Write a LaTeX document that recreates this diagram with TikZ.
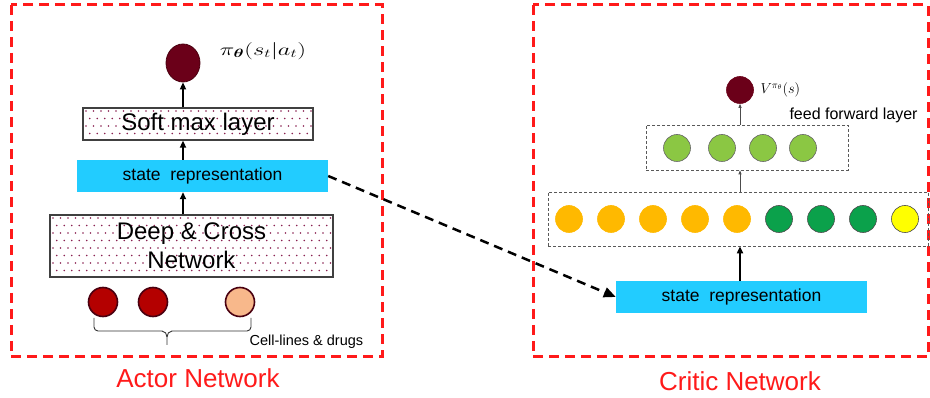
\documentclass[tikz,border=0pt]{standalone}
\usepackage{amsmath}
\usepackage{fontspec}
\setmainfont{Liberation Sans}
\usetikzlibrary{arrows.meta,shapes.geometric}
\definecolor{redline}{HTML}{FF1A1A}
\definecolor{cyanbox}{HTML}{22CCFF}
\definecolor{maroon}{HTML}{6B0019}
\definecolor{maroonedge}{HTML}{4A0010}
\definecolor{cellred}{HTML}{B40000}
\definecolor{peach}{HTML}{F8B88B}
\definecolor{orangec}{HTML}{FFB900}
\definecolor{greenc}{HTML}{0BA14B}
\definecolor{lgreenc}{HTML}{8BC743}
\definecolor{yellowc}{HTML}{FFFF00}
\definecolor{dotc}{HTML}{8B2252}
\newcommand{\fs}[1]{\fontsize{#1}{#1}\selectfont}
\newcommand{\mydotpattern}[4]{%
  \begin{scope}
    \clip (#1,#2) rectangle (#3,#4);
    \foreach \yy in {0,...,12}{
      \foreach \xx in {0,...,40}{
        \pgfmathsetmacro{\px}{#1+3+\xx*7.5+mod(\yy,2)*3.75}
        \pgfmathsetmacro{\py}{#2+3+\yy*7.5}
        \fill[dotc] (\px,\py) circle (0.85);
      }
    }
  \end{scope}}
\begin{document}
\begin{tikzpicture}[x=1pt,y=-1pt,
  frame/.style={draw=redline,line width=3pt,dash pattern=on 10pt off 6pt},
  title/.style={text=redline,font=\fs{26}},
  layerbox/.style={draw=black!75,line width=1.3pt,minimum width=#1,inner sep=0pt},
  staterep/.style={fill=cyanbox,minimum width=251,minimum height=32,inner sep=0pt,font=\fs{17.5}},
  thick arrow/.style={-{Triangle[length=7pt,width=6pt]},line width=2.5pt,black},
  thin arrow/.style={-{Triangle[length=4pt,width=3pt]},line width=0.8pt,black!70},
  neuron/.style={circle,minimum size=27,inner sep=0pt,line width=0.6pt},
  cellnode/.style={circle,minimum size=29,inner sep=0pt,line width=1.6pt,draw=maroonedge},
  groupbox/.style={draw=black!65,line width=0.7pt,dash pattern=on 3pt off 2pt,inner sep=0pt},
]
\useasboundingbox (0,0) rectangle (930,398);
\fill[white] (0,0) rectangle (930,398);

% frames
\draw[frame] (11,5) rectangle (382,357);
\draw[frame] (533,5) rectangle (928,357);
\node[title] (actortitle) at (198,378) {Actor Network};
\node[title] (critictitle) at (740,381) {Critic Network};

% ---------- Actor ----------
\mydotpattern{83}{108}{313}{140}
\node[layerbox=230,minimum height=32,font=\fs{24}] (softmax) at (198,124) {Soft max layer};
\node[staterep] (sra) at (202.5,176) {state\ \ representation};
\mydotpattern{50}{215}{333}{277}
\node[layerbox=283,minimum height=62,font=\fontsize{24}{29}\selectfont,align=center] (dcn) at (191.5,246) {Deep \& Cross\\Network};
\node[ellipse,minimum width=34,minimum height=38,inner sep=0pt,fill=maroon,draw=maroonedge,line width=0.8pt] (pout) at (183,63) {};
\node[font=\fs{18}] (plabel) at (263,51) {\scalebox{1.42}[1]{$\pi_{\boldsymbol{\theta}}(s_t|a_t)$}};

\draw[thick arrow] (softmax.north -| pout) -- (pout.south);
\draw[thick arrow] (sra.north -| pout) -- (softmax.south -| pout);
\draw[thick arrow] (dcn.north -| pout) -- (sra.south -| pout);

\node[cellnode,fill=cellred] (c1) at (103,302) {};
\node[cellnode,fill=cellred] (c2) at (153,302) {};
\node[cellnode,fill=peach] (c3) at (240,302) {};
\draw[black!80,line width=0.9pt] (94,318) -- (94,327) to[out=-90,in=180] (98,331) -- (162,331) to[out=0,in=90] (167,337) -- (167,345);
\draw[black!80,line width=0.9pt] (167,337) to[out=90,in=180] (172,331) -- (247,331) to[out=0,in=-90] (251,327) -- (251,318);
\node[font=\fs{14.5},anchor=west] (celllabel) at (246,342) {Cell-lines \& drugs};

% ---------- Critic ----------
\node[staterep] (src) at (741.5,297) {state\ \ representation};
\node[groupbox,minimum width=380,minimum height=54] (big) at (738,219) {};
\node[groupbox,minimum width=202,minimum height=45] (ff) at (747,147.5) {};
\node[neuron,fill=maroon,draw=maroon] (vout) at (740,90) {};
\node[font=\fs{14},anchor=west] (vlabel) at (757,90) {$V^{\pi_\theta}(s)$};
\node[font=\fs{16},anchor=west] (fflabel) at (786,115) {feed forward layer};

\foreach \x/\n in {569/o1,611/o2,653/o3,695/o4,737/o5}
  \node[neuron,fill=orangec,draw=orangec] (\n) at (\x,219) {};
\foreach \x/\n in {779/g1,821/g2,863/g3}
  \node[neuron,fill=greenc,draw=black!70] (\n) at (\x,219) {};
\node[neuron,fill=yellowc,draw=black!70] (y1) at (905,219) {};
\foreach \x/\n in {677/l1,722/l2,763/l3,803/l4}
  \node[neuron,fill=lgreenc,draw=black!60] (\n) at (\x,148) {};

\draw[thick arrow] (src.north -| vout) -- (big.south -| vout);
\draw[thin arrow] (big.north -| vout) -- (ff.south -| vout);
\draw[thin arrow] (ff.north -| vout) -- (vout.south);

% connection
\draw[-{Triangle[length=12pt,width=10pt]},line width=2.5pt,dash pattern=on 9pt off 6pt] (sra.east) -- (src.west);
\end{tikzpicture}
\end{document}
